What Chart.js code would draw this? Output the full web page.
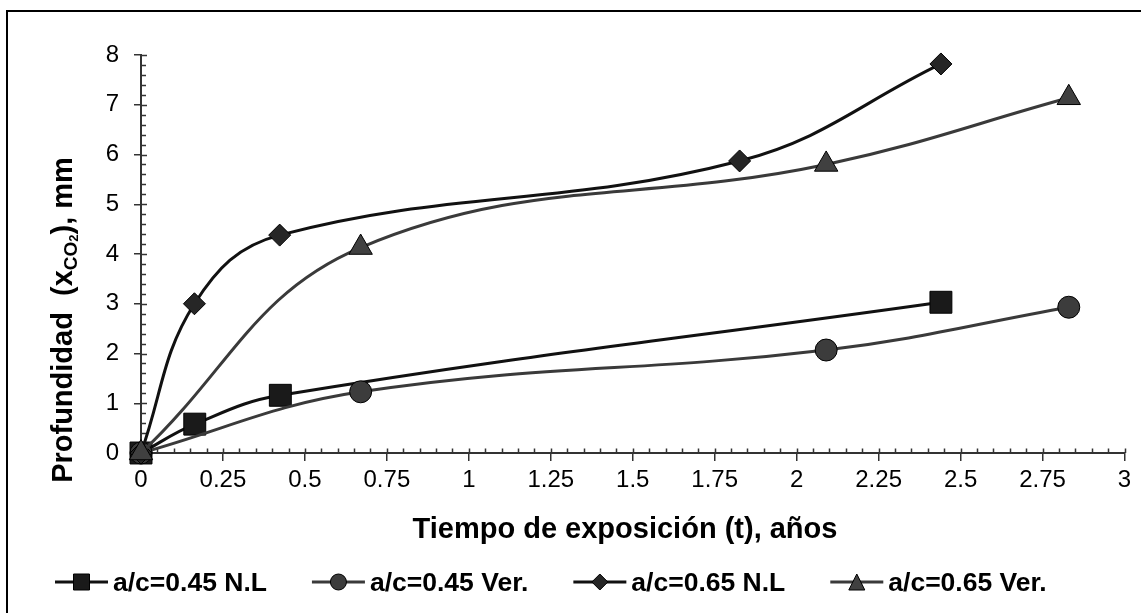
<!DOCTYPE html>
<html><head><meta charset="utf-8">
<script src="https://cdn.jsdelivr.net/npm/chart.js@4/dist/chart.umd.min.js"></script>
<style>html,body{margin:0;padding:0;background:#fff;}</style>
</head><body>
<canvas id="c" width="1141" height="613"></canvas>
<script>
// ---- data ----
const seriesLabels = ['a/c=0.45 N.L', 'a/c=0.45 Ver.', 'a/c=0.65 N.L', 'a/c=0.65 Ver.'];
const xNL45  = [0, 0.164, 0.425, 2.44];
const yNL45  = [0, 0.58, 1.16, 3.03];
const xVer45 = [0, 0.67, 2.09, 2.83];
const yVer45 = [0, 1.23, 2.07, 2.93];
const xNL65  = [0, 0.163, 0.423, 1.826, 2.44];
const yNL65  = [0, 3.0, 4.38, 5.87, 7.82];
const xVer65 = [0, 0.67, 2.09, 2.83];
const yVer65 = [0, 4.13, 5.80, 7.14];
const xTickLabels = ['0','0.25','0.5','0.75','1','1.25','1.5','1.75','2','2.25','2.5','2.75','3'];
const yTickLabels = ['0','1','2','3','4','5','6','7','8'];
const xTitle = 'Tiempo de exposición (t), años';
const yTitleParts = ['Profundidad  (x', 'CO', '2', '), mm'];

const FONT = '"Liberation Sans", Arial, Helvetica, sans-serif';
const styles = [
  {line:'#111111', fill:'#1a1a1a', shape:'rect', r:15.5},
  {line:'#3a3a3a', fill:'#3c3c3c', shape:'circle', r:11},
  {line:'#111111', fill:'#262626', shape:'rectRot', r:11},
  {line:'#3a3a3a', fill:'#404040', shape:'triangle', r:13.5}
];
const xs = [xNL45, xVer45, xNL65, xVer65];
const ys = [yNL45, yVer45, yNL65, yVer65];

const datasets = seriesLabels.map((lab, i) => ({
  label: lab,
  data: xs[i].map((x, j) => ({x: x, y: ys[i][j]})),
  borderColor: styles[i].line,
  backgroundColor: styles[i].fill,
  borderWidth: 3,
  pointStyle: styles[i].shape,
  pointRadius: styles[i].r,
  pointHoverRadius: styles[i].r,
  pointBackgroundColor: styles[i].fill,
  pointBorderColor: '#000',
  pointBorderWidth: 1,
  tension: 0.4,
  fill: false,
  clip: false,
  order: 3 - i
}));

function drawMarker(ctx, shape, x, y, s, fill) {
  ctx.save();
  ctx.fillStyle = fill; ctx.strokeStyle = '#000'; ctx.lineWidth = 1;
  ctx.beginPath();
  if (shape === 'rect') { ctx.rect(x - s/2, y - s/2, s, s); }
  else if (shape === 'circle') { ctx.arc(x, y, s/2, 0, Math.PI*2); }
  else if (shape === 'rectRot') { ctx.moveTo(x, y - s/2); ctx.lineTo(x + s/2, y); ctx.lineTo(x, y + s/2); ctx.lineTo(x - s/2, y); ctx.closePath(); }
  else { ctx.moveTo(x, y - s/2); ctx.lineTo(x + s/2, y + s/2); ctx.lineTo(x - s/2, y + s/2); ctx.closePath(); }
  ctx.fill(); ctx.stroke();
  ctx.restore();
}

const deco = {
  id: 'deco',
  beforeDraw(chart) {
    const ctx = chart.ctx;
    ctx.save();
    ctx.fillStyle = '#fff'; ctx.fillRect(0, 0, chart.width, chart.height);
    ctx.strokeStyle = '#000'; ctx.lineWidth = 2;
    ctx.strokeRect(7, 11, chart.width + 40, chart.height + 40);
    ctx.restore();
  },
  beforeDatasetsDraw(chart) {
    const ctx = chart.ctx, xS = chart.scales.x, yS = chart.scales.y, a = chart.chartArea;
    ctx.save();
    ctx.strokeStyle = '#333'; ctx.lineWidth = 1.5;
    ctx.beginPath();
    for (let i = 0; i <= 60; i++) {
      const px = Math.round(xS.getPixelForValue(i * 0.05)) + 0.5;
      ctx.moveTo(px, a.bottom); ctx.lineTo(px, a.bottom - 4.5);
    }
    for (let i = 0; i <= 40; i++) {
      const py = Math.round(yS.getPixelForValue(i * 0.2)) + 0.5;
      const len = (i % 5 === 0) ? 6 : 5;
      ctx.moveTo(a.left, py); ctx.lineTo(a.left + len, py);
    }
    ctx.stroke();
    ctx.restore();
  },
  afterDraw(chart) {
    const ctx = chart.ctx;
    ctx.save();
    ctx.fillStyle = '#000';
    // x title
    ctx.font = 'bold 29px ' + FONT;
    ctx.textAlign = 'center'; ctx.textBaseline = 'alphabetic';
    ctx.fillText(xTitle, 625, 538);
    // y title with subscript
    ctx.save();
    ctx.translate(72, 320);
    ctx.rotate(-Math.PI / 2);
    ctx.textAlign = 'left';
    const fonts = ['bold 29px ' + FONT, 'bold 19px ' + FONT, 'bold 13px ' + FONT, 'bold 29px ' + FONT];
    const offs = [0, 5, 6, 0];
    let widths = yTitleParts.map((t, i) => { ctx.font = fonts[i]; return ctx.measureText(t).width; });
    let total = widths.reduce((s, w) => s + w, 0);
    let cx = -total / 2;
    yTitleParts.forEach((t, i) => { ctx.font = fonts[i]; ctx.fillText(t, cx, offs[i]); cx += widths[i]; });
    ctx.restore();
    // legend
    ctx.font = 'bold 26.5px ' + FONT;
    ctx.textAlign = 'left'; ctx.textBaseline = 'alphabetic';
    let lx = 55;
    const ly = 582;
    seriesLabels.forEach((lab, i) => {
      ctx.strokeStyle = styles[i].line; ctx.lineWidth = 3;
      ctx.beginPath(); ctx.moveTo(lx, ly); ctx.lineTo(lx + 53, ly); ctx.stroke();
      drawMarker(ctx, styles[i].shape, lx + 26.5, ly, 16, styles[i].fill);
      ctx.fillStyle = '#000';
      ctx.fillText(lab, lx + 58, 591);
      lx += 58 + ctx.measureText(lab).width + 45;
    });
    ctx.restore();
  }
};

new Chart(document.getElementById('c'), {
  type: 'line',
  data: { datasets: datasets },
  plugins: [deco],
  options: {
    responsive: false,
    devicePixelRatio: 1,
    animation: false,
    layout: { padding: { top: 55, right: 11, bottom: 0, left: 0 } },
    plugins: { legend: { display: false }, tooltip: { enabled: false } },
    scales: {
      x: {
        type: 'linear', min: 0, max: 3,
        afterFit(s) { s.height = 160; },
        ticks: { stepSize: 0.25, color: '#000', padding: 5, maxRotation: 0, autoSkip: false,
                 font: { family: FONT, size: 24 },
                 callback: (v, i) => xTickLabels[i] },
        grid: { drawOnChartArea: false, drawTicks: true, tickLength: 8, color: '#333', lineWidth: 1.5 },
        border: { display: true, color: '#333', width: 2 },
        title: { display: false }
      },
      y: {
        type: 'linear', min: 0, max: 8,
        afterFit(s) { s.width = 141; },
        ticks: { stepSize: 1, color: '#000', padding: 15,
                 font: { family: FONT, size: 24 },
                 callback: (v, i) => yTickLabels[i] },
        grid: { drawOnChartArea: false, drawTicks: true, tickLength: 7, color: '#333', lineWidth: 1.5 },
        border: { display: true, color: '#333', width: 2 },
        title: { display: false }
      }
    }
  }
});
</script>
</body></html>
